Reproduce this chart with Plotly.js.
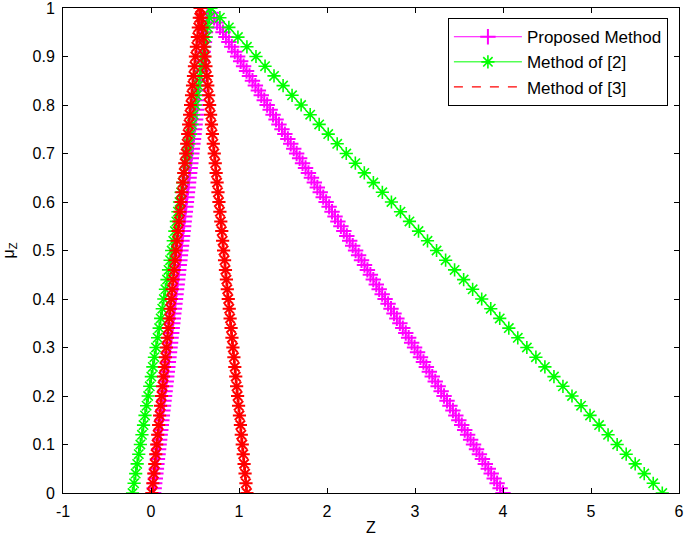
<!DOCTYPE html>
<html>
<head>
<meta charset="utf-8">
<script src="https://cdn.plot.ly/plotly-3.0.1.min.js"></script>
<style>html,body{margin:0;padding:0;background:#fff;}#chart{width:685px;height:541px;}</style>
</head>
<body>
<div id="chart"></div>
<script>
// membership levels
const alphaFine = [0,0.01,0.02,0.03,0.04,0.05,0.06,0.07,0.08,0.09,0.10,0.11,0.12,0.13,0.14,0.15,0.16,0.17,0.18,0.19,0.20,0.21,0.22,0.23,0.24,0.25,0.26,0.27,0.28,0.29,0.30,0.31,0.32,0.33,0.34,0.35,0.36,0.37,0.38,0.39,0.40,0.41,0.42,0.43,0.44,0.45,0.46,0.47,0.48,0.49,0.50,0.51,0.52,0.53,0.54,0.55,0.56,0.57,0.58,0.59,0.60,0.61,0.62,0.63,0.64,0.65,0.66,0.67,0.68,0.69,0.70,0.71,0.72,0.73,0.74,0.75,0.76,0.77,0.78,0.79,0.80,0.81,0.82,0.83,0.84,0.85,0.86,0.87,0.88,0.89,0.90,0.91,0.92,0.93,0.94,0.95,0.96,0.97,0.98,0.99,1.00];
const alphaCoarse = [0,0.02,0.04,0.06,0.08,0.10,0.12,0.14,0.16,0.18,0.20,0.22,0.24,0.26,0.28,0.30,0.32,0.34,0.36,0.38,0.40,0.42,0.44,0.46,0.48,0.50,0.52,0.54,0.56,0.58,0.60,0.62,0.64,0.66,0.68,0.70,0.72,0.74,0.76,0.78,0.80,0.82,0.84,0.86,0.88,0.90,0.92,0.94,0.96,0.98,1.00];

// Proposed Method: left branch (alpha ascending), right branch (alpha descending, peak -> base)
const proposedLeft = [0.030,0.036,0.042,0.049,0.055,0.061,0.067,0.073,0.080,0.086,0.092,0.098,0.104,0.111,0.117,0.123,0.129,0.135,0.142,0.148,0.154,0.160,0.166,0.173,0.179,0.185,0.191,0.197,0.204,0.210,0.216,0.222,0.228,0.235,0.241,0.247,0.253,0.259,0.266,0.272,0.278,0.284,0.290,0.297,0.303,0.309,0.315,0.321,0.328,0.334,0.340,0.346,0.352,0.359,0.365,0.371,0.377,0.383,0.390,0.396,0.402,0.408,0.414,0.421,0.427,0.433,0.439,0.445,0.452,0.458,0.464,0.470,0.476,0.483,0.489,0.495,0.501,0.507,0.514,0.520,0.526,0.532,0.538,0.545,0.551,0.557,0.563,0.569,0.576,0.582,0.588,0.594,0.600,0.607,0.613,0.619,0.625,0.631,0.638,0.644,0.650];
const proposedRight = [0.650,0.684,0.717,0.751,0.784,0.818,0.851,0.885,0.918,0.952,0.985,1.019,1.052,1.086,1.119,1.153,1.186,1.220,1.253,1.287,1.320,1.354,1.387,1.421,1.454,1.488,1.521,1.555,1.588,1.622,1.655,1.689,1.722,1.756,1.789,1.823,1.856,1.890,1.923,1.957,1.990,2.024,2.057,2.091,2.124,2.158,2.191,2.225,2.258,2.292,2.325,2.359,2.392,2.426,2.459,2.493,2.526,2.560,2.593,2.627,2.660,2.694,2.727,2.761,2.794,2.828,2.861,2.895,2.928,2.962,2.995,3.029,3.062,3.096,3.129,3.163,3.196,3.230,3.263,3.297,3.330,3.364,3.397,3.431,3.464,3.498,3.531,3.565,3.598,3.632,3.665,3.699,3.732,3.766,3.799,3.833,3.866,3.900,3.933,3.967,4.000];

// Method of [2]
const method2Left = [-0.210,-0.192,-0.174,-0.157,-0.139,-0.121,-0.103,-0.085,-0.068,-0.050,-0.032,-0.014,0.004,0.021,0.039,0.057,0.075,0.093,0.110,0.128,0.146,0.164,0.182,0.199,0.217,0.235,0.253,0.271,0.288,0.306,0.324,0.342,0.360,0.377,0.395,0.413,0.431,0.449,0.466,0.484,0.502,0.520,0.538,0.555,0.573,0.591,0.609,0.627,0.644,0.662,0.680];
const method2Right = [0.680,0.783,0.885,0.988,1.090,1.193,1.296,1.398,1.501,1.603,1.706,1.809,1.911,2.014,2.116,2.219,2.322,2.424,2.527,2.629,2.732,2.835,2.937,3.040,3.142,3.245,3.348,3.450,3.553,3.655,3.758,3.861,3.963,4.066,4.168,4.271,4.374,4.476,4.579,4.681,4.784,4.887,4.989,5.092,5.194,5.297,5.400,5.502,5.605,5.707,5.810];

// Method of [3]
const method3Left = [0.010,0.021,0.032,0.043,0.054,0.065,0.076,0.087,0.098,0.109,0.120,0.131,0.142,0.153,0.164,0.175,0.186,0.197,0.208,0.219,0.230,0.241,0.252,0.263,0.274,0.285,0.296,0.307,0.318,0.329,0.340,0.351,0.362,0.373,0.384,0.395,0.406,0.417,0.428,0.439,0.450,0.461,0.472,0.483,0.494,0.505,0.516,0.527,0.538,0.549,0.560];
const method3Right = [0.560,0.571,0.581,0.592,0.602,0.613,0.624,0.634,0.645,0.655,0.666,0.677,0.687,0.698,0.708,0.719,0.730,0.740,0.751,0.761,0.772,0.783,0.793,0.804,0.814,0.825,0.836,0.846,0.857,0.867,0.878,0.889,0.899,0.910,0.920,0.931,0.942,0.952,0.963,0.973,0.984,0.995,1.005,1.016,1.026,1.037,1.048,1.058,1.069,1.079,1.090];

const seriesNames = ['Proposed Method','Method of [2]','Method of [3]'];
const xTicks = [-1,0,1,2,3,4,5,6];
const yTicks = [0,0.1,0.2,0.3,0.4,0.5,0.6,0.7,0.8,0.9,1];
const yTickText = ['0','0.1','0.2','0.3','0.4','0.5','0.6','0.7','0.8','0.9','1'];

function tri(left, right, levels) {
  const down = levels.slice().reverse();
  return {x: left.concat(right), y: levels.concat(down)};
}
const p = tri(proposedLeft, proposedRight, alphaFine);
const g = tri(method2Left, method2Right, alphaCoarse);
const r = tri(method3Left, method3Right, alphaCoarse);

const MAG = '#ff00ff', GRN = '#00ff00', RED = '#ff0000';
const traces = [
  {x:p.x, y:p.y, name:seriesNames[0], mode:'lines+markers', legendgroup:'a',
   line:{color:MAG, width:1},
   marker:{symbol:'cross-thin-open', size:11, color:MAG, line:{color:MAG, width:2}}},
  {x:g.x, y:g.y, name:seriesNames[1], mode:'lines+markers', legendgroup:'b',
   line:{color:GRN, width:1},
   marker:{symbol:'asterisk-open', size:11, color:GRN, line:{color:GRN, width:1.6}}},
  {x:r.x, y:r.y, name:seriesNames[2], mode:'lines', legendgroup:'c',
   line:{color:RED, width:1.2, dash:'dash'}},
  {x:r.x, y:r.y, name:seriesNames[2], mode:'markers', legendgroup:'c', showlegend:false,
   marker:{symbol:'asterisk-open', size:11, color:RED, line:{color:RED, width:2}}}
];

const FONT = 'Liberation Sans, Arial, sans-serif';
const axisCommon = {
  showgrid:false, zeroline:false, showline:true, linecolor:'#000', linewidth:1,
  mirror:'ticks', ticks:'inside', ticklen:5, tickcolor:'#000', tickwidth:1,
  ticklabeloverflow:'allow',
  tickfont:{family:FONT, size:16, color:'#000'}
};

const layout = {
  width:685, height:541,
  margin:{l:63, r:6, t:8, b:48},
  paper_bgcolor:'#fff', plot_bgcolor:'#fff',
  showlegend:true,
  font:{family:FONT, size:16, color:'#000'},
  xaxis:Object.assign({}, axisCommon, {
    range:[-1,6], tickvals:xTicks, ticktext:xTicks.map(String),
    ticklabelstandoff:4,
    title:{text:'Z', standoff:2, font:{size:16}}
  }),
  yaxis:Object.assign({}, axisCommon, {
    range:[0,1], tickvals:yTicks, ticktext:yTickText,
    ticklabelstandoff:4,
    title:{text:'μ<sub>Z</sub>', standoff:16, font:{size:16}}
  }),
  legend:{
    x:0.982, y:0.979, xanchor:'right', yanchor:'top',
    bgcolor:'#fff', bordercolor:'#000', borderwidth:1,
    font:{family:FONT, size:17, color:'#000'}, itemwidth:68, traceorder:'grouped', tracegroupgap:0
  }
};

Plotly.newPlot('chart', traces, layout, {displayModeBar:false, staticPlot:true});
</script>
</body>
</html>
